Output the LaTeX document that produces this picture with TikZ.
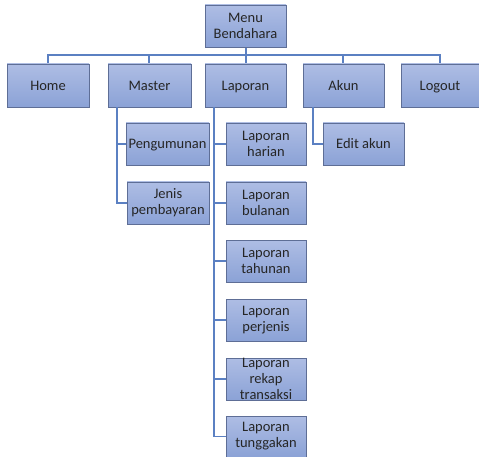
\documentclass[tikz,border=0pt]{standalone}
\usepackage{fontspec}
\setmainfont{Carlito}
\begin{document}
\begin{tikzpicture}[x=1pt,y=-1pt,
  box/.style={draw=boxline, line width=0.8pt, top color=boxtop, bottom color=boxbot, inner sep=0pt, font=\fontsize{14.5}{16}\selectfont, align=center, text=black!85},
  one/.style={text height=12pt, text depth=2pt},
  link/.style={draw=linkc, line width=1.4pt}]
\definecolor{boxtop}{HTML}{AEBDE4}
\definecolor{boxbot}{HTML}{8BA2D6}
\definecolor{boxline}{HTML}{5E6E96}
\definecolor{linkc}{HTML}{5B80C2}
\useasboundingbox (0,0) rectangle (479,457);
\newcommand{\bx}[7][]{\node[box, #1, minimum width={#5-#3}, minimum height={#6-#4}] (#2) at ({(#3+#5)/2},{(#4+#6)/2}) {#7};}
\coordinate (bus) at (246,55);
\draw[link] (246,47) -- (bus);
\draw[link] (48,64) |- (bus) -| (440,64);
\draw[link] (149,64) |- (bus);
\draw[link] (246,64) -- (bus);
\draw[link] (343,64) |- (bus);
\bx{menu}{205}{5}{286}{47}{Menu\\Bendahara}
\bx[one]{home}{7}{64}{89}{107}{Home}
\bx[one]{master}{108}{64}{191}{107}{Master}
\bx[one]{lap}{205}{64}{286}{107}{Laporan}
\bx[one]{akun}{303}{64}{384}{107}{Akun}
\bx[one]{logout}{401}{64}{479}{107}{Logout}
\bx[one]{peng}{126}{123}{209}{165}{Pengumunan}
\bx{jenis}{127}{182}{209}{224}{Jenis\\pembayaran}
\bx{harian}{226}{123}{306}{165}{Laporan\\harian}
\bx{bulanan}{226}{182}{306}{224}{Laporan\\bulanan}
\bx{tahunan}{226}{240}{306}{282}{Laporan\\tahunan}
\bx{perjenis}{226}{299}{306}{341}{Laporan\\perjenis}
\bx{rekap}{226}{358}{306}{400}{Laporan\\rekap\\transaksi}
\bx{tunggakan}{226}{416}{306}{457}{Laporan\\tunggakan}
\bx[one]{edit}{323}{123}{404}{165}{Edit akun}
\foreach \c in {peng,jenis}
  \draw[link] (master.south -| 117,0) |- (\c.west);
\foreach \c in {harian,bulanan,tahunan,perjenis,rekap,tunggakan}
  \draw[link] (lap.south -| 214,0) |- (\c.west);
\draw[link] (akun.south -| 313,0) |- (edit.west);
\end{tikzpicture}
\end{document}
